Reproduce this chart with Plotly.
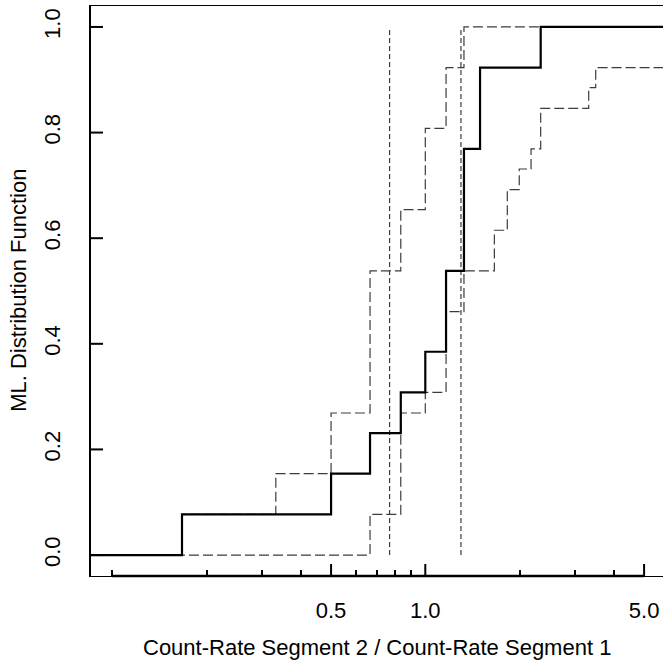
import math
import plotly.graph_objects as go

# Plot range on the log-ratio axis (log10 units) and on the probability axis
X_LOG_RANGE = [-1.068, 0.7594]
Y_RANGE = [-0.0397, 1.0397]
X_LEFT = 10 ** X_LOG_RANGE[0]
X_RIGHT = 10 ** X_LOG_RANGE[1]

# ML distribution function: ratio values where the step occurs and the level after it
ml_ratio = [0.167, 0.5, 0.666, 0.835, 1.0, 1.165, 1.329, 1.496, 2.337]
ml_level = [0.077, 0.154, 0.231, 0.308, 0.385, 0.538, 0.769, 0.923, 1.0]

# Upper confidence band
upper_ratio = [0.167, 0.333, 0.5, 0.666, 0.835, 1.0, 1.165, 1.329]
upper_level = [0.077, 0.154, 0.269, 0.538, 0.654, 0.808, 0.923, 1.0]

# Lower confidence band
lower_ratio = [0.666, 0.835, 1.0, 1.165, 1.329, 1.662, 1.828, 1.996, 2.177, 2.337, 3.327, 3.503]
lower_level = [0.077, 0.269, 0.308, 0.461, 0.538, 0.615, 0.692, 0.731, 0.769, 0.846, 0.885, 0.923]

# Interval limits (vertical reference lines)
interval_limits = [0.769, 1.30]

# Axis ticks
x_major = [0.5, 1.0, 5.0]
x_major_text = ["0.5", "1.0", "5.0"]
x_minor = [0.1, 0.2, 0.3, 0.4, 0.6, 0.7, 0.8, 0.9, 2, 3, 4]
y_ticks = [0.0, 0.2, 0.4, 0.6, 0.8, 1.0]
y_tick_text = ["0.0", "0.2", "0.4", "0.6", "0.8", "1.0"]

FONT = "Liberation Sans, Arial, sans-serif"
BAND_COLOR = "#3c3c3c"

WIDTH, HEIGHT = 663, 664
MARGIN = dict(l=91, r=0, t=6, b=88)
PLOT_W = WIDTH - MARGIN["l"] - MARGIN["r"]
PLOT_H = HEIGHT - MARGIN["t"] - MARGIN["b"]
MAJOR_TICK_PX = 12


def step_xy(xs, ys, start_level=0.0):
    """Extend a step function to the plotting limits."""
    x = [X_LEFT] + list(xs) + [X_RIGHT]
    y = [start_level] + list(ys) + [ys[-1]]
    return x, y


def x_paper(v):
    """Position of a ratio value as a fraction of the plot width."""
    return (math.log10(v) - X_LOG_RANGE[0]) / (X_LOG_RANGE[1] - X_LOG_RANGE[0])


fig = go.Figure()

for xs, ys in [(upper_ratio, upper_level), (lower_ratio, lower_level)]:
    sx, sy = step_xy(xs, ys)
    fig.add_trace(go.Scatter(
        x=sx, y=sy, mode="lines", line_shape="hv",
        line=dict(color=BAND_COLOR, width=1.2, dash="10px,4px"),
        showlegend=False, hoverinfo="skip"))

for v in interval_limits:
    fig.add_trace(go.Scatter(
        x=[v, v], y=[0.0, 1.0], mode="lines",
        line=dict(color=BAND_COLOR, width=1.2, dash="5px,3px"),
        showlegend=False, hoverinfo="skip"))

sx, sy = step_xy(ml_ratio, ml_level)
fig.add_trace(go.Scatter(
    x=sx, y=sy, mode="lines", line_shape="hv",
    line=dict(color="black", width=2.2),
    showlegend=False, hoverinfo="skip"))

# major tick marks pointing into the plot, drawn on the data scales
tick_dy = MAJOR_TICK_PX / PLOT_H * (Y_RANGE[1] - Y_RANGE[0])
tick_dx = 10 ** (X_LOG_RANGE[0] + MAJOR_TICK_PX / PLOT_W * (X_LOG_RANGE[1] - X_LOG_RANGE[0]))
tx, ty = [], []
for v in x_major:
    tx += [v, v, None]
    ty += [Y_RANGE[0], Y_RANGE[0] + tick_dy, None]
for v in y_ticks:
    tx += [X_LEFT, tick_dx, None]
    ty += [v, v, None]
fig.add_trace(go.Scatter(x=tx, y=ty, mode="lines", connectgaps=False,
                         line=dict(color="black", width=2),
                         showlegend=False, hoverinfo="skip"))

shapes = [
    # thicker axis line spanning the tick marks
    dict(type="line", xref="paper", yref="paper", layer="above",
         x0=x_paper(x_minor[0]), x1=x_paper(x_major[-1]), y0=0, y1=0,
         line=dict(color="black", width=2.4)),
]

no_grid = dict(showgrid=False, zeroline=False)

fig.update_layout(
    width=WIDTH, height=HEIGHT,
    margin=MARGIN,
    paper_bgcolor="white", plot_bgcolor="white",
    font=dict(family=FONT, size=22, color="black"),
    shapes=shapes,
    xaxis=dict(
        type="log", range=X_LOG_RANGE, **no_grid,
        showline=True, linecolor="black", linewidth=1.2, mirror=True,
        tickmode="array", tickvals=x_major, ticktext=x_major_text, ticks="",
        ticklabelstandoff=14,
        tickfont=dict(family=FONT, size=22, color="black"),
        minor=dict(tickmode="array", tickvals=x_minor, ticks="inside",
                   ticklen=6, tickwidth=1.6, tickcolor="black", showgrid=False),
    ),
    yaxis=dict(
        range=Y_RANGE, **no_grid,
        showline=True, linecolor="black", linewidth=2,
        tickmode="array", tickvals=y_ticks, ticktext=y_tick_text, ticks="",
        tickangle=-90, ticklabelstandoff=20,
        tickfont=dict(family=FONT, size=22, color="black"),
    ),
    annotations=[
        dict(text="Count-Rate Segment 2 / Count-Rate Segment 1",
             xref="paper", yref="paper", x=0.4995, y=-0.1263,
             xanchor="center", yanchor="middle", showarrow=False,
             font=dict(family=FONT, size=22, color="black")),
        dict(text="ML. Distribution Function",
             xref="paper", yref="paper", x=-0.1259, y=0.502,
             xanchor="center", yanchor="middle", textangle=-90, showarrow=False,
             font=dict(family=FONT, size=22, color="black")),
    ],
)

fig.write_html("out.html")
